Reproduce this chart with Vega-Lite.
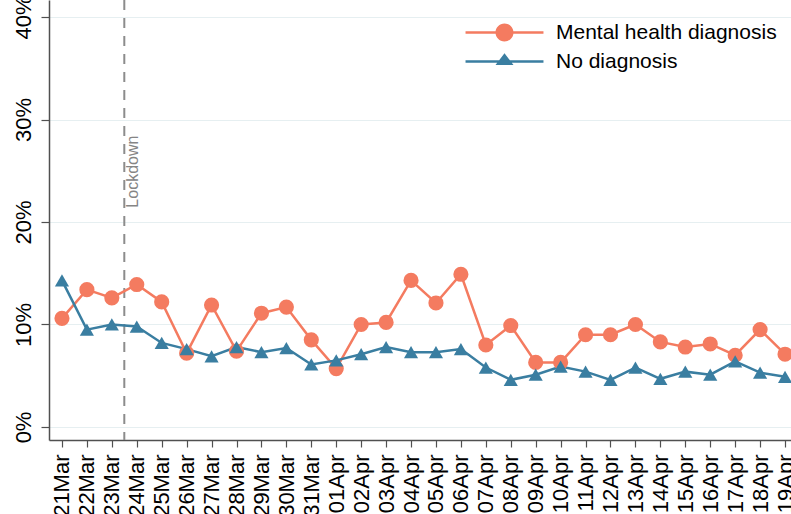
{
  "$schema": "https://vega.github.io/schema/vega-lite/v6.json",
  "width": 749,
  "height": 440,
  "autosize": "none",
  "padding": {"left": 49, "top": 0, "right": 0, "bottom": 74},
  "background": "white",
  "config": {
    "font": "Liberation Sans",
    "view": {"stroke": null},
    "axis": {"labelFont": "Liberation Sans", "labelColor": "#000000", "domainColor": "#505050", "tickColor": "#505050", "domainWidth": 1.5, "tickWidth": 1.2}
  },
  "datasets": {
    "series": [
      {"date": "2020-03-21", "series": "Mental health diagnosis", "pct": 10.6},
      {"date": "2020-03-22", "series": "Mental health diagnosis", "pct": 13.4},
      {"date": "2020-03-23", "series": "Mental health diagnosis", "pct": 12.6},
      {"date": "2020-03-24", "series": "Mental health diagnosis", "pct": 13.9},
      {"date": "2020-03-25", "series": "Mental health diagnosis", "pct": 12.2},
      {"date": "2020-03-26", "series": "Mental health diagnosis", "pct": 7.2},
      {"date": "2020-03-27", "series": "Mental health diagnosis", "pct": 11.9},
      {"date": "2020-03-28", "series": "Mental health diagnosis", "pct": 7.4},
      {"date": "2020-03-29", "series": "Mental health diagnosis", "pct": 11.1},
      {"date": "2020-03-30", "series": "Mental health diagnosis", "pct": 11.7},
      {"date": "2020-03-31", "series": "Mental health diagnosis", "pct": 8.5},
      {"date": "2020-04-01", "series": "Mental health diagnosis", "pct": 5.7},
      {"date": "2020-04-02", "series": "Mental health diagnosis", "pct": 10.0},
      {"date": "2020-04-03", "series": "Mental health diagnosis", "pct": 10.2},
      {"date": "2020-04-04", "series": "Mental health diagnosis", "pct": 14.3},
      {"date": "2020-04-05", "series": "Mental health diagnosis", "pct": 12.1},
      {"date": "2020-04-06", "series": "Mental health diagnosis", "pct": 14.9},
      {"date": "2020-04-07", "series": "Mental health diagnosis", "pct": 8.0},
      {"date": "2020-04-08", "series": "Mental health diagnosis", "pct": 9.9},
      {"date": "2020-04-09", "series": "Mental health diagnosis", "pct": 6.3},
      {"date": "2020-04-10", "series": "Mental health diagnosis", "pct": 6.3},
      {"date": "2020-04-11", "series": "Mental health diagnosis", "pct": 9.0},
      {"date": "2020-04-12", "series": "Mental health diagnosis", "pct": 9.0},
      {"date": "2020-04-13", "series": "Mental health diagnosis", "pct": 10.0},
      {"date": "2020-04-14", "series": "Mental health diagnosis", "pct": 8.3},
      {"date": "2020-04-15", "series": "Mental health diagnosis", "pct": 7.8},
      {"date": "2020-04-16", "series": "Mental health diagnosis", "pct": 8.1},
      {"date": "2020-04-17", "series": "Mental health diagnosis", "pct": 7.0},
      {"date": "2020-04-18", "series": "Mental health diagnosis", "pct": 9.5},
      {"date": "2020-04-19", "series": "Mental health diagnosis", "pct": 7.1},
      {"date": "2020-03-21", "series": "No diagnosis", "pct": 14.3},
      {"date": "2020-03-22", "series": "No diagnosis", "pct": 9.5},
      {"date": "2020-03-23", "series": "No diagnosis", "pct": 10.0},
      {"date": "2020-03-24", "series": "No diagnosis", "pct": 9.8},
      {"date": "2020-03-25", "series": "No diagnosis", "pct": 8.2},
      {"date": "2020-03-26", "series": "No diagnosis", "pct": 7.6},
      {"date": "2020-03-27", "series": "No diagnosis", "pct": 6.9},
      {"date": "2020-03-28", "series": "No diagnosis", "pct": 7.8},
      {"date": "2020-03-29", "series": "No diagnosis", "pct": 7.3},
      {"date": "2020-03-30", "series": "No diagnosis", "pct": 7.7},
      {"date": "2020-03-31", "series": "No diagnosis", "pct": 6.1},
      {"date": "2020-04-01", "series": "No diagnosis", "pct": 6.5},
      {"date": "2020-04-02", "series": "No diagnosis", "pct": 7.1},
      {"date": "2020-04-03", "series": "No diagnosis", "pct": 7.8},
      {"date": "2020-04-04", "series": "No diagnosis", "pct": 7.3},
      {"date": "2020-04-05", "series": "No diagnosis", "pct": 7.3},
      {"date": "2020-04-06", "series": "No diagnosis", "pct": 7.6},
      {"date": "2020-04-07", "series": "No diagnosis", "pct": 5.8},
      {"date": "2020-04-08", "series": "No diagnosis", "pct": 4.6},
      {"date": "2020-04-09", "series": "No diagnosis", "pct": 5.1},
      {"date": "2020-04-10", "series": "No diagnosis", "pct": 5.9},
      {"date": "2020-04-11", "series": "No diagnosis", "pct": 5.4},
      {"date": "2020-04-12", "series": "No diagnosis", "pct": 4.6},
      {"date": "2020-04-13", "series": "No diagnosis", "pct": 5.8},
      {"date": "2020-04-14", "series": "No diagnosis", "pct": 4.7},
      {"date": "2020-04-15", "series": "No diagnosis", "pct": 5.4},
      {"date": "2020-04-16", "series": "No diagnosis", "pct": 5.1},
      {"date": "2020-04-17", "series": "No diagnosis", "pct": 6.4},
      {"date": "2020-04-18", "series": "No diagnosis", "pct": 5.3},
      {"date": "2020-04-19", "series": "No diagnosis", "pct": 4.9}
    ],
    "events": [{"date": "2020-03-23T12:00:00Z", "label": "Lockdown", "pct": 21.4}]
  },
  "resolve": {"scale": {"shape": "independent", "size": "independent", "fill": "independent"}},
  "layer": [
    {
      "data": {"name": "events"},
      "mark": {"type": "rule", "color": "#8c8c8c", "strokeWidth": 2, "strokeDash": [10, 8]},
      "encoding": {
        "x": {"field": "date", "type": "temporal", "scale": {"type": "utc", "domain": ["2020-03-20T11:31:00Z", "2020-04-19T12:29:00Z"]},
          "axis": {"title": null, "tickCount": {"interval": "day", "step": 1}, "format": "%d%b", "labelAngle": 270, "labelAlign": "right", "labelBaseline": "middle", "labelFontSize": 22, "labelPadding": 7, "tickSize": 7, "grid": false, "labelOverlap": false, "labelFlush": false}}
      }
    },
    {
      "data": {"name": "events"},
      "mark": {"type": "text", "angle": 270, "align": "left", "baseline": "top", "color": "#858585", "fontSize": 16, "dx": 0, "dy": 1},
      "encoding": {
        "x": {"field": "date", "type": "temporal"},
        "y": {"field": "pct", "type": "quantitative"},
        "text": {"field": "label"}
      }
    },
    {
      "data": {"name": "series"},
      "mark": {"type": "line", "strokeWidth": 2.5},
      "encoding": {
        "x": {"field": "date", "type": "temporal"},
        "y": {"field": "pct", "type": "quantitative", "scale": {"domain": [-1.27, 41.66], "nice": false, "zero": false},
          "axis": {"title": null, "values": [0, 10, 20, 30, 40], "labelExpr": "datum.value + '%'", "labelAngle": 270, "labelAlign": "center", "labelBaseline": "bottom", "labelPadding": 6, "labelFontSize": 22, "tickSize": 8, "grid": true, "gridColor": "#e6eff1", "gridWidth": 1.2}},
        "color": {"field": "series", "type": "nominal", "scale": {"domain": ["Mental health diagnosis", "No diagnosis"], "range": ["#f47b60", "#3a7ea1"]}, "legend": null}
      }
    },
    {
      "data": {"name": "series"},
      "mark": {"type": "point", "filled": true, "opacity": 1},
      "encoding": {
        "x": {"field": "date", "type": "temporal"},
        "y": {"field": "pct", "type": "quantitative"},
        "color": {"field": "series", "type": "nominal", "legend": null},
        "shape": {"field": "series", "type": "nominal", "scale": {"domain": ["Mental health diagnosis", "No diagnosis"], "range": ["circle", "triangle-up"]}, "legend": null},
        "size": {"field": "series", "type": "nominal", "scale": {"domain": ["Mental health diagnosis", "No diagnosis"], "range": [230, 200]}, "legend": null}
      }
    },
    {
      "data": {"name": "series"},
      "transform": [{"filter": "false"}],
      "mark": {"type": "point", "filled": true, "opacity": 1},
      "encoding": {
        "x": {"field": "date", "type": "temporal"},
        "y": {"field": "pct", "type": "quantitative"},
        "fill": {"field": "series", "type": "nominal", "scale": {"domain": ["Mental health diagnosis", "No diagnosis"], "range": ["#f47b60", "#3a7ea1"]},
          "legend": {"title": null, "orient": "none", "legendX": 445, "legendY": 22, "symbolSize": 324, "symbolStrokeWidth": 0, "labelFontSize": 21, "labelLimit": 400, "labelColor": "#000000", "labelFont": "Liberation Sans", "labelOffset": 41, "rowPadding": 7, "symbolOpacity": 1}},
        "shape": {"field": "series", "type": "nominal",
          "scale": {"domain": ["Mental health diagnosis", "No diagnosis"], "range": ["M-4.33,-0.14H4.33V0.14H-4.33ZM1,0A1,1,0,1,1,-1,0A1,1,0,1,1,1,0Z", "M-4.33,-0.14H4.33V0.14H-4.33ZM-1,0.4L0,-0.92L1,0.4Z"]},
          "legend": {"title": null, "orient": "none", "legendX": 445, "legendY": 22, "symbolSize": 324, "symbolStrokeWidth": 0, "labelFontSize": 21, "labelLimit": 400, "labelColor": "#000000", "labelFont": "Liberation Sans", "labelOffset": 41, "rowPadding": 7, "symbolOpacity": 1}}
      }
    }
  ]
}
